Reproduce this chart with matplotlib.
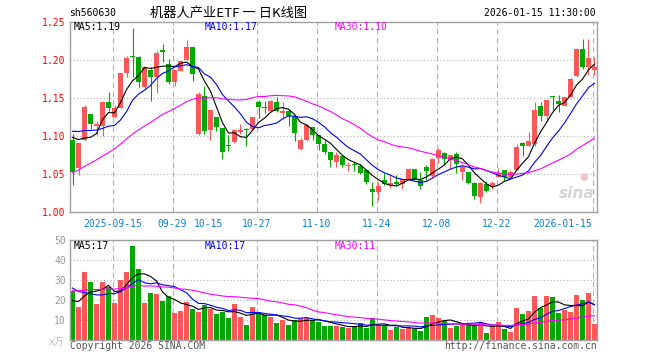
import numpy as np
import matplotlib
matplotlib.use('Agg')
import matplotlib.pyplot as plt

# ---------------- data ----------------
opens = [1.094, 1.058, 1.095, 1.128, 1.113, 1.113, 1.145, 1.1245, 1.137, 1.1825,
         1.204, 1.204, 1.1637, 1.1865, 1.1769, 1.2131, 1.1943, 1.1712, 1.1856, 1.1996,
         1.217, 1.1026, 1.1524, 1.107, 1.1253, 1.1105, 1.0882, 1.0917, 1.105, 1.1092,
         1.1092, 1.1441, 1.1372, 1.1323, 1.1441, 1.130, 1.1323, 1.1266, 1.083, 1.0948,
         1.1122, 1.1004, 1.0895, 1.0786, 1.0655, 1.0729, 1.0605, 1.062, 1.0598, 1.0546,
         1.0306, 1.0262, 1.0424, 1.036, 1.0393, 1.0371, 1.0437, 1.0568, 1.0415, 1.059,
         1.0467, 1.0712, 1.0777, 1.0686, 1.0764, 1.0524, 1.0524, 1.0384, 1.0196, 1.0362,
         1.0327, 1.0458, 1.0546, 1.0458, 1.0546, 1.0904, 1.086, 1.0886, 1.1397, 1.1266,
         1.1528, 1.1463, 1.1397, 1.1515, 1.179, 1.214, 1.1904, 1.186]
highs = [1.103, 1.091, 1.140, 1.129, 1.119, 1.146, 1.157, 1.140, 1.183, 1.205,
         1.2415, 1.205, 1.191, 1.190, 1.211, 1.2205, 1.2009, 1.1865, 1.1995, 1.226,
         1.217, 1.157, 1.166, 1.134, 1.1253, 1.1105, 1.1004, 1.1087, 1.115, 1.110,
         1.1253, 1.1476, 1.146, 1.147, 1.1515, 1.145, 1.135, 1.1266, 1.0965, 1.1157,
         1.1122, 1.1004, 1.0939, 1.0786, 1.0786, 1.0729, 1.0655, 1.0655, 1.0624, 1.0546,
         1.0393, 1.0393, 1.051, 1.048, 1.048, 1.0437, 1.0568, 1.0568, 1.0524, 1.0612,
         1.0712, 1.084, 1.0786, 1.0751, 1.0786, 1.0625, 1.0524, 1.0393, 1.0393, 1.0406,
         1.0406, 1.0577, 1.0546, 1.0546, 1.0887, 1.0917, 1.1048, 1.144, 1.144, 1.1472,
         1.1528, 1.154, 1.1515, 1.176, 1.2154, 1.2276, 1.2276, 1.204]
lows = [1.036, 1.048, 1.093, 1.109, 1.101, 1.100, 1.133, 1.124, 1.136, 1.177,
        1.177, 1.1637, 1.162, 1.1454, 1.1559, 1.1965, 1.168, 1.165, 1.185, 1.1996,
        1.1725, 1.1017, 1.1026, 1.0939, 1.106, 1.0699, 1.080, 1.0908, 1.102, 1.086,
        1.107, 1.1231, 1.130, 1.131, 1.131, 1.1223, 1.1135, 1.093, 1.0817, 1.093,
        1.0948, 1.0808, 1.0764, 1.059, 1.059, 1.059, 1.0537, 1.0537, 1.0502, 1.0371,
        1.0079, 1.0153, 1.035, 1.032, 1.0345, 1.0305, 1.0428, 1.0415, 1.0306, 1.0424,
        1.0458, 1.0638, 1.0633, 1.0568, 1.0511, 1.0424, 1.0362, 1.0166, 1.0118, 1.0262,
        1.0305, 1.0458, 1.0406, 1.045, 1.0546, 1.0729, 1.086, 1.086, 1.120, 1.1209,
        1.134, 1.131, 1.1385, 1.1515, 1.177, 1.1878, 1.180, 1.180]
closes = [1.053, 1.091, 1.138, 1.116, 1.116, 1.145, 1.137, 1.137, 1.1825, 1.2015,
          1.203, 1.170, 1.1908, 1.1769, 1.2087, 1.2105, 1.1712, 1.1865, 1.1987, 1.217,
          1.1812, 1.155, 1.1061, 1.134, 1.1122, 1.0786, 1.0870, 1.1079, 1.108, 1.1079,
          1.1253, 1.1376, 1.1367, 1.1463, 1.1323, 1.1323, 1.1266, 1.1035, 1.0939, 1.1148,
          1.1004, 1.0895, 1.0786, 1.0677, 1.0742, 1.0611, 1.0615, 1.0611, 1.0511, 1.0393,
          1.0262, 1.034, 1.0371, 1.038, 1.0362, 1.0437, 1.0568, 1.0424, 1.034, 1.0537,
          1.0699, 1.0817, 1.0699, 1.0751, 1.0633, 1.059, 1.0384, 1.021, 1.0384, 1.0275,
          1.0384, 1.0511, 1.0458, 1.0524, 1.0852, 1.086, 1.093, 1.134, 1.1266, 1.1472,
          1.1507, 1.1419, 1.1515, 1.1745, 1.214, 1.19, 1.2022, 1.1904]
volumes = [24.3, 16.4, 34.0, 29.0, 17.9, 29.0, 26.2, 18.4, 29.9, 34.0,
           47.2, 35.4, 18.4, 23.4, 22.8, 19.4, 21.8, 13.4, 14.4, 18.9,
           15.1, 13.9, 17.2, 15.1, 12.7, 13.9, 10.7, 17.6, 11.3, 7.2,
           16.4, 13.9, 12.2, 11.3, 8.2, 9.9, 7.2, 9.9, 10.6, 10.6,
           9.9, 9.0, 6.8, 6.8, 6.8, 6.3, 5.8, 6.7, 8.2, 5.8,
           10.8, 7.2, 7.2, 4.6, 6.3, 5.3, 6.3, 5.5, 4.3, 11.2,
           12.2, 10.7, 9.3, 5.6, 6.7, 7.7, 7.7, 6.7, 8.7, 3.3,
           6.7, 8.7, 5.3, 3.8, 15.7, 12.7, 14.2, 21.9, 15.7, 21.9,
           21.3, 13.4, 14.8, 13.9, 22.5, 19.7, 23.5, 7.8]
# sessions before the visible window (estimated from where the MA lines start)
prior_close = [0.985, 0.990, 0.992, 0.988, 0.995, 0.998, 0.993, 0.997, 1.000, 0.998,
               1.020, 1.030, 1.045, 1.040, 1.055, 1.060, 1.065, 1.070, 1.080, 1.084,
               1.095, 1.125, 1.115, 1.110, 1.125, 1.106, 1.128, 1.111, 1.092]
prior_volume = [19, 23, 21, 18, 24, 22, 20, 25, 21, 22,
                24, 28, 22, 27, 30, 25, 26, 29, 24, 28,
                33.7, 39, 35, 24, 29.2, 18.7, 19.7, 19.2, 15.7]

date_labels = ['2025-09-15', '09-29', '10-15', '10-27', '11-10', '11-24', '12-08', '12-22', '2026-01-15']
date_index = [7, 17, 23, 31, 41, 51, 61, 71, 87]
grid_index = [7, 17, 31, 41, 51, 61, 71, 87]
price_ticks = [1.00, 1.05, 1.10, 1.15, 1.20, 1.25]
volume_ticks = [10, 20, 30, 40, 50]
price_ma_labels = ['MA5:1.19', 'MA10:1.17', 'MA30:1.10']
volume_ma_labels = ['MA5:17', 'MA10:17', 'MA30:11']
code = 'sh560630'
title = '机器人产业ETF 一 日K线图'
stamp = '2026-01-15 11:30:00'

# ---------------- style ----------------
W, H = 660, 360
RED = '#ff5757'
GREEN = '#00a800'
BORDER = '#a0a0a0'
GRID = '#b4b4b4'
MA_COLORS = ['#000000', '#0000ff', '#ff00ff']
MONO = 'DejaVu Sans Mono'
FS = 7

plt.rcParams['font.family'] = ['DejaVu Sans Mono', 'Noto Sans CJK SC']

o = np.array(opens); h = np.array(highs); l = np.array(lows); c = np.array(closes)
v = np.array(volumes)
N = len(c)
x = np.arange(N)
up = c >= o
cols = np.where(up, RED, GREEN)


def moving(prior, cur, n):
    s = np.concatenate([prior, cur]).astype(float)
    m = np.convolve(s, np.ones(n) / n, mode='valid')
    return m[-len(cur):]


fig = plt.figure(figsize=(W / 100, H / 100), dpi=100)


def fx(px):
    return px / W


def fy(py):
    return 1 - py / H


L_px, R_px = 70, 597
ax = fig.add_axes([fx(L_px), fy(212), (R_px - L_px) / W, (212 - 21.5) / H])
axv = fig.add_axes([fx(L_px), fy(339.5), (R_px - L_px) / W, (339.5 - 240) / H])

step = 6.0
x0 = (L_px - 72.5) / step
x1 = (R_px - 72.5) / step
goff = -0.33

for a in (ax, axv):
    a.set_xlim(x0, x1)
    for s in a.spines.values():
        s.set_color(BORDER)
        s.set_linewidth(1.0)
    for gi in grid_index:
        a.axvline(gi + goff, color=GRID, lw=0.8, ls=(0, (5, 3)), zorder=0)

# ---- price panel ----
ax.set_ylim(1.0, 1.25)
for p in price_ticks[1:-1]:
    ax.axhline(p, color=GRID, lw=0.8, ls=(0, (1, 2)), zorder=0)
ax.vlines(x, l, h, colors=cols, lw=0.8, zorder=2)
body_lo = np.minimum(o, c)
body_h = np.maximum(np.abs(c - o), 0.0013)
ax.bar(x, body_h, bottom=body_lo, width=5 / 6, color=cols, linewidth=0, zorder=3)
for n, col in zip((5, 10, 30), MA_COLORS):
    ax.plot(x, moving(prior_close, c, n), color=col, lw=0.8, zorder=4)

ax.set_yticks(price_ticks)
ax.set_yticklabels([f'{t:.2f}' for t in price_ticks], color='#ff0000', fontsize=FS, family=MONO)
ax.tick_params(axis='y', length=0, pad=3)
ax.set_xticks([i + goff for i in date_index])
ax.set_xticklabels(date_labels, color='#0a80d2', fontsize=FS, family=MONO)
ax.tick_params(axis='x', length=0, pad=5)
ax.get_xticklabels()[-1].set_ha('right')

ma_x = [74, 205, 335]
for lab, px, col in zip(price_ma_labels, ma_x, MA_COLORS):
    fig.text(fx(px), fy(26.5), lab, color=col, fontsize=FS, family=MONO, va='center', ha='left')

# sina watermark
ax.text(0.995, 0.06, 'sina', transform=ax.transAxes, ha='right', va='bottom',
        fontsize=11, style='italic', weight='bold', color='#d4d4d4', family='DejaVu Sans', zorder=1)
ax.text(0.975, 0.16, '●', transform=ax.transAxes, ha='center', va='bottom',
        fontsize=7, color='#f4c4c4', family='DejaVu Sans', zorder=1)

# ---- volume panel ----
axv.set_ylim(0, 50)
for t in volume_ticks[:-1]:
    axv.axhline(t, color=GRID, lw=0.8, ls=(0, (1, 2)), zorder=0)
axv.bar(x, v, width=5 / 6, color=cols, linewidth=0, zorder=2)
for n, col in zip((5, 10, 30), MA_COLORS):
    axv.plot(x, moving(prior_volume, v, n), color=col, lw=0.8, zorder=4)
axv.set_yticks(volume_ticks)
axv.set_yticklabels([str(t) for t in volume_ticks], color='#9a9a9a', fontsize=FS, family=MONO)
axv.tick_params(axis='y', length=0, pad=3)
axv.set_xticks([])
for lab, px, col in zip(volume_ma_labels, ma_x, MA_COLORS):
    fig.text(fx(px), fy(246), lab, color=col, fontsize=FS, family=MONO, va='center', ha='left')
fig.text(fx(64), fy(342), 'x万', color='#c0c0c0', fontsize=FS, ha='right', va='center',
         family=['DejaVu Sans Mono', 'Noto Sans CJK SC'])

# ---- header / footer ----
fig.text(fx(69), fy(13), code, fontsize=FS, family=MONO, va='center', ha='left', color='#000000')
fig.text(fx(150), fy(13), title, fontsize=9.5, family=['Noto Sans CJK SC', 'DejaVu Sans'],
         va='center', ha='left', color='#000000')
fig.text(fx(596), fy(13), stamp, fontsize=FS, family=MONO, va='center', ha='right', color='#000000')
fig.text(fx(70), fy(346), 'Copyright 2026 SINA.COM', fontsize=FS, family=MONO,
         va='center', ha='left', color='#555555')
fig.text(fx(597), fy(346), 'http://finance.sina.com.cn', fontsize=FS, family=MONO,
         va='center', ha='right', color='#555555')

fig.savefig('out.png', dpi=100)
